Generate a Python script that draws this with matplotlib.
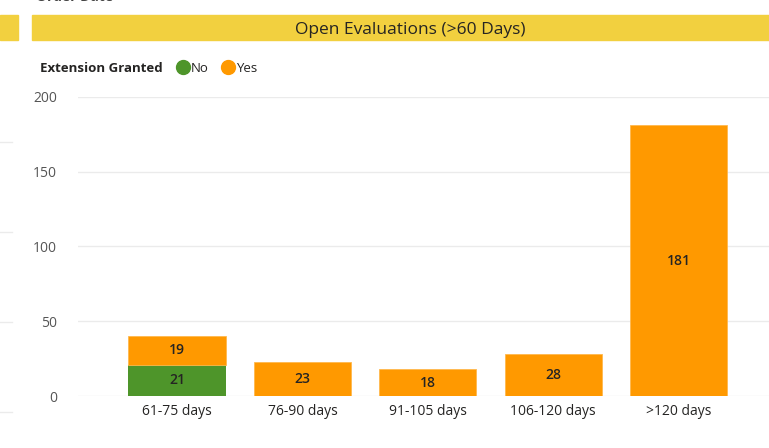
import matplotlib.pyplot as plt
import matplotlib.patches as mpatches
from matplotlib.lines import Line2D
import numpy as np

plt.rcParams['font.family'] = ['Open Sans', 'DejaVu Sans']

# 数据
categories = ['61-75 days', '76-90 days', '91-105 days', '106-120 days', '>120 days']
no_values = [21, 0, 0, 0, 0]
yes_values = [19, 23, 18, 28, 181]
y_ticks = [0, 50, 100, 150, 200]

green = '#4E952A'
orange = '#FF9900'
yellow = '#F2D03F'
grid_color = '#EBEBEB'
text_color = '#252423'

W, H = 769, 448
fig = plt.figure(figsize=(W / 100, H / 100), dpi=100)

# 标题栏（黄色）
fig.patches.append(mpatches.Rectangle((32 / W, 1 - 40 / H), (W - 32) / W, 25 / H,
                                      transform=fig.transFigure, color=yellow, zorder=0))
fig.patches.append(mpatches.Rectangle((0, 1 - 40 / H), 18 / W, 25 / H,
                                      transform=fig.transFigure, color=yellow, zorder=0))
fig.text(410 / W, 1 - 29.5 / H, 'Open Evaluations (>60 Days)', ha='center', va='center',
         fontsize=12.5, color=text_color)
# 上方被裁掉的文字
fig.text(36 / W, 1 + 3 / H, 'Order Date', ha='left', va='center', fontsize=10,
         color='#444444', fontweight='bold')

# 左侧其他图表残留的网格线
for yy in [142, 232, 322, 412]:
    fig.lines.append(Line2D([0, 12 / W], [1 - yy / H, 1 - yy / H],
                            transform=fig.transFigure, color=grid_color, lw=1))

# 图例
fig.text(40 / W, 1 - 68 / H, 'Extension Granted', ha='left', va='center',
         fontsize=9.5, fontweight='bold', color=text_color)
for cx, c, lab in [(183, green, 'No'), (228, orange, 'Yes')]:
    fig.lines.append(Line2D([cx / W], [1 - 67 / H], marker='o', markersize=10,
                            color=c, transform=fig.transFigure, lw=0))
    fig.text((cx + 8) / W, 1 - 68 / H, lab, ha='left', va='center',
             fontsize=9.5, color=text_color)

# 主图
ax = fig.add_axes([78 / W, (H - 396) / H, (W - 78) / W, 299 / H])
x = np.arange(len(categories))
width = 0.775
ax.bar(x, no_values, width, color=green, zorder=2)
ax.bar(x, yes_values, width, bottom=no_values, color=orange, zorder=2,
       edgecolor='#FFB84D', linewidth=0.6)

for i in range(len(categories)):
    if no_values[i] > 0:
        ax.text(x[i], no_values[i] / 2, str(no_values[i]), ha='center', va='center',
                fontsize=10, fontweight='semibold', color=text_color)
    if yes_values[i] > 0:
        ax.text(x[i], no_values[i] + yes_values[i] / 2, str(yes_values[i]), ha='center',
                va='center', fontsize=10, fontweight='semibold', color=text_color)

ax.set_xlim(-0.79, 4.72)
ax.set_ylim(0, 200)
ax.set_yticks(y_ticks)
ax.set_yticklabels([str(v) for v in y_ticks], fontsize=10, color='#555555')
ax.set_xticks(x)
ax.set_xticklabels(categories, fontsize=10, color=text_color)
ax.tick_params(axis='both', length=0)
ax.tick_params(axis='y', pad=15)
ax.tick_params(axis='x', pad=6)
for spine in ax.spines.values():
    spine.set_visible(False)
ax.grid(axis='y', color=grid_color, linewidth=1, zorder=0)
ax.set_axisbelow(True)

plt.savefig('out.png', dpi=100)
